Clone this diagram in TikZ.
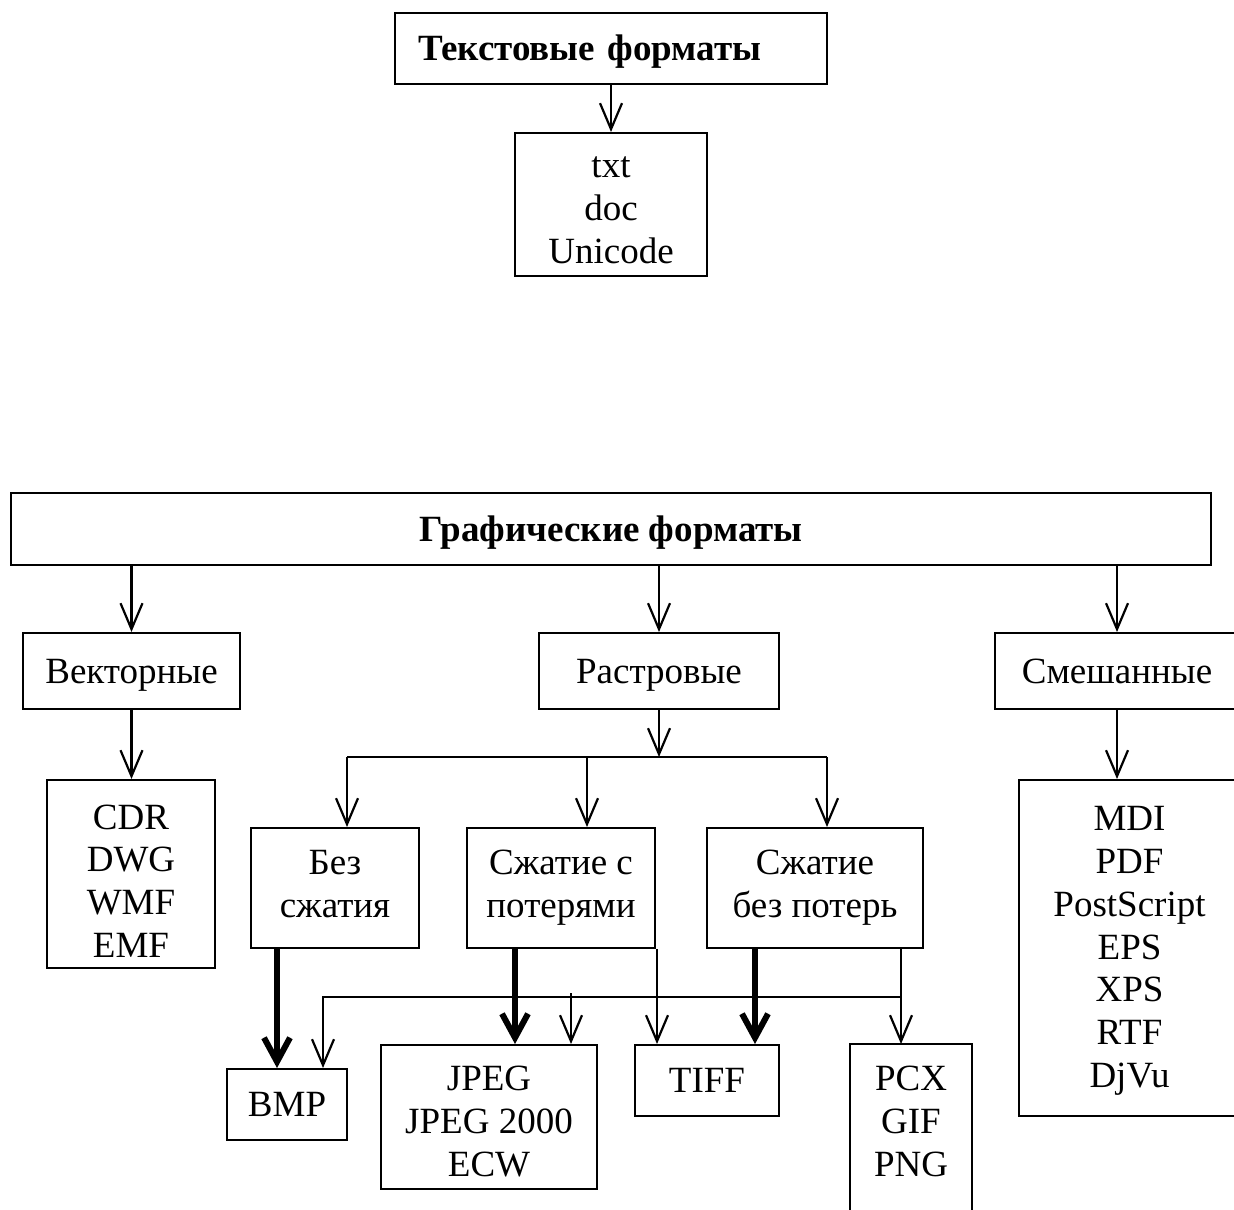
\documentclass[tikz,border=0pt]{standalone}
\usepackage{fontspec}
\setmainfont{Liberation Serif}
\usetikzlibrary{arrows.meta}
\begin{document}
\begin{tikzpicture}[x=0.5pt,y=-0.5pt,
  box/.style={draw, line width=1pt, inner sep=0pt, align=center,
    font=\fontsize{18.5}{21.4}\selectfont, text depth=0pt, text height=12pt},
  th/.style={text height=#1, text depth=0pt},
  arr/.style={line width=1.1pt, -{Straight Barb[length=13pt,width=11pt]}},
  plain/.style={line width=1.1pt},
  bigarr/.style={line width=3pt, -{Straight Barb[length=12pt,width=13pt]}}]
\useasboundingbox (0,0) rectangle (1234,1209);
\fill[white] (0,0) rectangle (1234,1209);

% top part
\node[box, th=12.5pt, minimum width=216pt, minimum height=35.5pt, text width=193pt, align=left,
  font=\fontsize{18.5}{21.5}\selectfont\bfseries] (tf) at (611,48.5) {Текстовые форматы};
\node[box, th=59pt, minimum width=96pt, minimum height=71.5pt] (txt) at (611,204.5) {txt\\doc\\Unicode};
\draw[arr] (tf.south) -- (txt.north);

% graphics
\node[box, th=12.5pt, minimum width=600pt, minimum height=36pt,
  font=\fontsize{18.5}{21.5}\selectfont\bfseries] (gf) at (611,529) {Графические форматы};
\node[box, minimum width=108.5pt, minimum height=38pt] (vec) at (131.5,671) {Векторные};
\node[box, minimum width=120pt, minimum height=38pt] (ras) at (659,671) {Растровые};
\node[box, minimum width=122pt, minimum height=38pt] (mix) at (1117,671) {Смешанные};
\draw[arr] (gf.south -| vec) -- (vec.north);
\draw[arr] (gf.south -| ras) -- (ras.north);
\draw[arr] (gf.south -| mix) -- (mix.north);

\node[box, th=83.5pt, minimum width=84pt, minimum height=94pt] (cdr) at (131,874) {CDR\\DWG\\WMF\\EMF};
\node[box, th=139.5pt, minimum width=110.5pt, minimum height=168pt] (mdi) at (1129.5,948)
  {MDI\\PDF\\PostScript\\EPS\\XPS\\RTF\\DjVu};
\draw[arr] (vec.south) -- (vec.south |- cdr.north);
\draw[arr] (mix.south) -- (mix.south |- mdi.north);

% raster subtypes
\node[box, th=29.5pt, minimum width=84pt, minimum height=60pt] (bez) at (335,888) {Без\\сжатия};
\node[box, th=29.5pt, minimum width=94pt, minimum height=60pt] (szp) at (561,888) {Сжатие с\\потерями};
\node[box, th=29.5pt, minimum width=108pt, minimum height=60pt] (sbp) at (815,888) {Сжатие\\без потерь};

\coordinate (j) at (659,757);
\coordinate (jl) at (347,757);
\coordinate (jm) at (587,757);
\coordinate (jr) at (827,757);
\draw[arr] (ras.south) -- (j);
\draw[plain] (jl) -- (jr);
\draw[arr] (jl) -- (jl |- bez.north);
\draw[arr] (jm) -- (jm |- szp.north);
\draw[arr] (jr) -- (jr |- sbp.north);

% format boxes
\node[box, minimum width=60pt, minimum height=35.5pt] (bmp) at (287,1104.5) {BMP};
\node[box, th=59.5pt, minimum width=108pt, minimum height=72pt] (jpeg) at (489,1117) {JPEG\\JPEG 2000\\ECW};
\node[box, minimum width=72pt, minimum height=35.5pt] (tiff) at (707,1080.5) {TIFF};
\node[box, th=55.5pt, draw=none, minimum width=60pt, minimum height=76pt] (pcx) at (911,1121) {PCX\\GIF\\PNG};
\draw[line width=1pt] ([yshift=-30pt]pcx.south west) -- (pcx.north west) -- (pcx.north east) -- ([yshift=-30pt]pcx.south east);

\coordinate (x277) at (277,0);
\coordinate (x323) at (323,0);
\coordinate (x515) at (515,0);
\coordinate (x657) at (657,0);
\coordinate (x755) at (755,0);
\coordinate (x901) at (901,0);
\coordinate (h) at (0,997);
\coordinate (s) at (571,993);

\draw[bigarr] (x277 |- bez.south) -- (x277 |- bmp.north);
\draw[bigarr] (x515 |- szp.south) -- (x515 |- jpeg.north);
\draw[bigarr] (x755 |- sbp.south) -- (x755 |- tiff.north);
\draw[arr] (x657 |- szp.south) -- (x657 |- tiff.north);
\draw[arr] (x901 |- sbp.south) -- (x901 |- pcx.north);
\draw[arr] (x901 |- h) -- (x323 |- h) -- (x323 |- bmp.north);
\draw[arr] (s) -- (s |- jpeg.north);
\end{tikzpicture}
\end{document}
